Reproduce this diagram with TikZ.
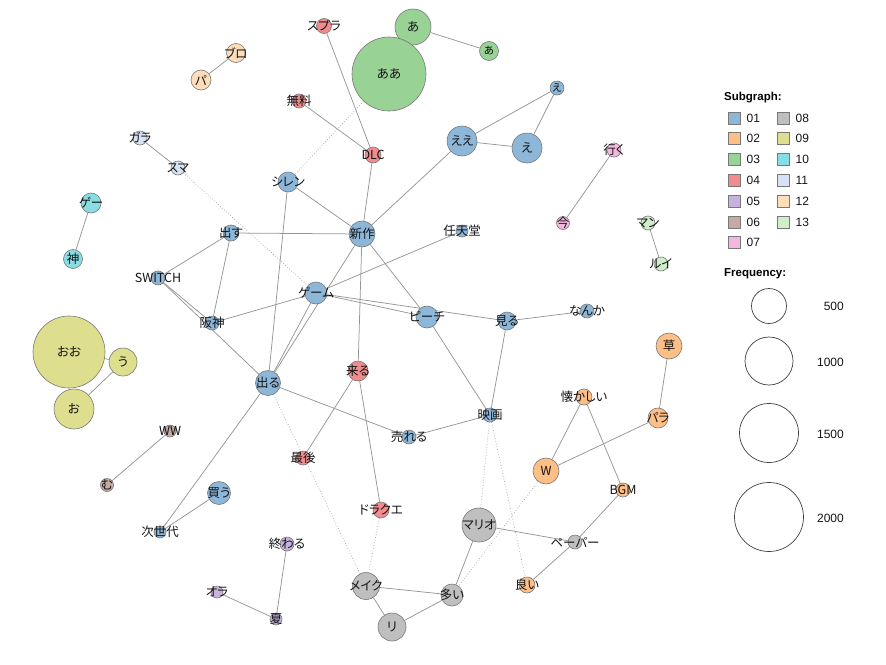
\documentclass[tikz,border=0pt]{standalone}
\usepackage{fontspec}
\setmainfont{Liberation Sans}
\newfontfamily\jpfont[RawFeature=+palt]{Noto Sans CJK JP}
\usetikzlibrary{backgrounds}
\definecolor{c01}{RGB}{141,183,217}
\definecolor{c02}{RGB}{253,191,134}
\definecolor{c03}{RGB}{152,210,148}
\definecolor{c04}{RGB}{240,140,142}
\definecolor{c05}{RGB}{199,178,222}
\definecolor{c06}{RGB}{197,170,163}
\definecolor{c07}{RGB}{244,184,223}
\definecolor{c08}{RGB}{191,191,191}
\definecolor{c09}{RGB}{222,222,143}
\definecolor{c10}{RGB}{136,221,226}
\definecolor{c11}{RGB}{215,226,244}
\definecolor{c12}{RGB}{254,221,186}
\definecolor{c13}{RGB}{207,238,201}
\definecolor{rim}{RGB}{120,120,120}
\definecolor{edge}{RGB}{150,150,150}
\definecolor{ink}{RGB}{20,20,20}
\tikzstyle{word} = [circle, draw=rim, line width=0.6pt, inner sep=0pt]
\tikzstyle{every label} = [font=\jpfont\fontsize{12.5}{13}\selectfont, inner sep=0pt, text=ink]
\tikzstyle{line} = [draw=edge, line width=0.75pt]
\tikzstyle{weak} = [draw=edge!80, line width=0.75pt, dotted]
\tikzstyle{key} = [rectangle, draw=rim, line width=0.9pt, minimum size=12pt, inner sep=0pt]
\tikzstyle{keytext} = [font=\fontsize{12}{12}\selectfont, text=ink, inner sep=0pt, label distance=6pt]
\tikzstyle{ring} = [circle, draw=black!75, line width=0.7pt, inner sep=0pt]
\tikzstyle{head} = [font=\bfseries\fontsize{11.5}{12}\selectfont, anchor=west, inner sep=0pt]

\begin{document}
\begin{tikzpicture}[x=1pt, y=-1pt]
\useasboundingbox (0,0) rectangle (886,664);
\node [word, fill=c01, minimum size=26pt, label=center:新作] (shinsaku) at (362,234) {};
\node [word, fill=c01, minimum size=30pt, label=center:ええ] (ee) at (462,141) {};
\node [word, fill=c01, minimum size=30pt, label=center:え] (e) at (527,148) {};
\node [word, fill=c01, minimum size=14pt, label=center:ぇ] (esmall) at (557,88) {};
\node [word, fill=c01, minimum size=20pt, label=center:シレン] (shiren) at (288,182) {};
\node [word, fill=c01, minimum size=16pt, label=center:出す] (dasu) at (231,233) {};
\node [word, fill=c01, minimum size=12pt, label=center:任天堂] (nintendo) at (462,231) {};
\node [word, fill=c01, minimum size=14pt, label=center:SWITCH] (switch) at (158,278) {};
\node [word, fill=c01, minimum size=22pt, label=center:ゲーム] (game) at (316,293) {};
\node [word, fill=c01, minimum size=14pt, label=center:阪神] (hanshin) at (212,323) {};
\node [word, fill=c01, minimum size=22pt, label=center:ピーチ] (peach) at (427,317) {};
\node [word, fill=c01, minimum size=18pt, label=center:見る] (miru) at (507,321) {};
\node [word, fill=c01, minimum size=14pt, label=center:なんか] (nanka) at (587,311) {};
\node [word, fill=c01, minimum size=25pt, label=center:出る] (deru) at (268,383) {};
\node [word, fill=c01, minimum size=14pt, label=center:映画] (eiga) at (490,415) {};
\node [word, fill=c01, minimum size=14pt, label=center:売れる] (ureru) at (409,437) {};
\node [word, fill=c01, minimum size=23pt, label=center:買う] (kau) at (219,493) {};
\node [word, fill=c01, minimum size=12pt, label=center:次世代] (jisedai) at (160,532) {};
\node [word, fill=c04, minimum size=15pt, label=center:スプラ] (supura) at (324,26) {};
\node [word, fill=c04, minimum size=14pt, label=center:無料] (muryo) at (299,101) {};
\node [word, fill=c04, minimum size=16pt, label=center:DLC] (dlc) at (373,155) {};
\node [word, fill=c04, minimum size=20pt, label=center:来る] (kuru) at (358,371) {};
\node [word, fill=c04, minimum size=14pt, label=center:最後] (saigo) at (303,458) {};
\node [word, fill=c04, minimum size=16pt, label=center:ドラクエ] (dorakue) at (381,510) {};
\node [word, fill=c03, minimum size=36pt, label=center:あ] (a) at (413,27) {};
\node [word, fill=c03, minimum size=19pt, label=center:ぁ] (asmall) at (489,51) {};
\node [word, fill=c03, minimum size=74pt, label=center:ああ] (aa) at (389,74) {};
\node [word, fill=c08, minimum size=34pt, label=center:マリオ] (mario) at (479,525) {};
\node [word, fill=c08, minimum size=14pt, label=center:ペーパー] (paper) at (575,542) {};
\node [word, fill=c08, minimum size=27pt, label=center:メイク] (meiku) at (366,586) {};
\node [word, fill=c08, minimum size=22pt, label=center:多い] (ooi) at (452,595) {};
\node [word, fill=c08, minimum size=28pt, label=center:リ] (ri) at (392,627) {};
\node [word, fill=c02, minimum size=26pt, label=center:草] (kusa) at (669,346) {};
\node [word, fill=c02, minimum size=16pt, label=center:懐かしい] (natsukashii) at (584,397) {};
\node [word, fill=c02, minimum size=20pt, label=center:パラ] (para) at (658,418) {};
\node [word, fill=c02, minimum size=26pt, label=center:W] (w) at (546,471) {};
\node [word, fill=c02, minimum size=14pt, label=center:BGM] (bgm) at (623,490) {};
\node [word, fill=c02, minimum size=16pt, label=center:良い] (yoi) at (527,585) {};
\node [word, fill=c09, minimum size=72pt, label=center:おお] (oo) at (69,352) {};
\node [word, fill=c09, minimum size=28pt, label=center:う] (u) at (123,362) {};
\node [word, fill=c09, minimum size=40pt, label=center:お] (o) at (74,409) {};
\node [word, fill=c10, minimum size=20pt, label=center:ゲー] (gee) at (91,203) {};
\node [word, fill=c10, minimum size=19pt, label=center:神] (kami) at (73,259) {};
\node [word, fill=c11, minimum size=14pt, label=center:ガラ] (gara) at (140,138) {};
\node [word, fill=c11, minimum size=14pt, label=center:スマ] (suma) at (178,168) {};
\node [word, fill=c12, minimum size=19pt, label=center:ブロ] (buro) at (236,53) {};
\node [word, fill=c12, minimum size=20pt, label=center:パ] (pa) at (201,80) {};
\node [word, fill=c13, minimum size=14pt, label=center:マン] (man) at (648,223) {};
\node [word, fill=c13, minimum size=14pt, label=center:ルイ] (rui) at (661,264) {};
\node [word, fill=c07, minimum size=14pt, label=center:行く] (iku) at (614,150) {};
\node [word, fill=c07, minimum size=13pt, label=center:今] (ima) at (563,223) {};
\node [word, fill=c05, minimum size=14pt, label=center:終わる] (owaru) at (287,544) {};
\node [word, fill=c05, minimum size=12pt, label=center:オラ] (ora) at (217,592) {};
\node [word, fill=c05, minimum size=12pt, label=center:夏] (natsu) at (276,619) {};
\node [word, fill=c06, minimum size=12pt, label=center:WW] (ww) at (170,431) {};
\node [word, fill=c06, minimum size=13pt, label=center:む] (mu) at (107,485) {};
\begin{scope}[on background layer]
\path [line] (supura) -- (dlc);
\path [line] (muryo) -- (dlc);
\path [line] (dlc) -- (shinsaku);
\path [line] (a) -- (asmall);
\path [line] (ee) -- (e);
\path [line] (ee) -- (esmall);
\path [line] (e) -- (esmall);
\path [line] (ee) -- (shinsaku);
\path [line] (shiren) -- (shinsaku);
\path [line] (shiren) -- (deru);
\path [line] (dasu) -- (shinsaku);
\path [line] (dasu) -- (switch);
\path [line] (dasu) -- (hanshin);
\path [line] (switch) -- (hanshin);
\path [line] (switch) -- (deru);
\path [line] (hanshin) -- (game);
\path [line] (game) -- (nintendo);
\path [line] (game) -- (peach);
\path [line] (game) -- (miru);
\path [line] (game) -- (deru);
\path [line] (shinsaku) -- (deru);
\path [line] (shinsaku) -- (peach);
\path [line] (shinsaku) -- (kuru);
\path [line] (miru) -- (nanka);
\path [line] (miru) -- (eiga);
\path [line] (peach) -- (eiga);
\path [line] (deru) -- (ureru);
\path [line] (ureru) -- (eiga);
\path [line] (deru) -- (jisedai);
\path [line] (kau) -- (jisedai);
\path [line] (kuru) -- (saigo);
\path [line] (kuru) -- (dorakue);
\path [line] (natsukashii) -- (w);
\path [line] (natsukashii) -- (bgm);
\path [line] (w) -- (para);
\path [line] (para) -- (kusa);
\path [line] (bgm) -- (paper);
\path [line] (paper) -- (yoi);
\path [line] (mario) -- (paper);
\path [line] (mario) -- (ooi);
\path [line] (meiku) -- (ooi);
\path [line] (meiku) -- (ri);
\path [line] (ri) -- (ooi);
\path [line] (oo) -- (u);
\path [line] (u) -- (o);
\path [line] (gee) -- (kami);
\path [line] (gara) -- (suma);
\path [line] (buro) -- (pa);
\path [line] (man) -- (rui);
\path [line] (iku) -- (ima);
\path [line] (owaru) -- (natsu);
\path [line] (ora) -- (natsu);
\path [line] (ww) -- (mu);
\path [weak] (aa) -- (shiren);
\path [weak] (suma) -- (game);
\path [weak] (deru) -- (meiku);
\path [weak] (dorakue) -- (meiku);
\path [weak] (eiga) -- (mario);
\path [weak] (eiga) -- (yoi);
\path [weak] (w) -- (ooi);
\end{scope}
\node [head] (subgraph) at (724,98) {Subgraph:};
\node [key, fill=c01, label={[keytext]right:01}] (k01) at (734,118) {};
\node [key, fill=c02, label={[keytext]right:02}] (k02) at (734,138) {};
\node [key, fill=c03, label={[keytext]right:03}] (k03) at (734,159) {};
\node [key, fill=c04, label={[keytext]right:04}] (k04) at (734,180) {};
\node [key, fill=c05, label={[keytext]right:05}] (k05) at (734,201) {};
\node [key, fill=c06, label={[keytext]right:06}] (k06) at (734,222) {};
\node [key, fill=c07, label={[keytext]right:07}] (k07) at (734,242) {};
\node [key, fill=c08, label={[keytext]right:08}] (k08) at (783,118) {};
\node [key, fill=c09, label={[keytext]right:09}] (k09) at (783,138) {};
\node [key, fill=c10, label={[keytext]right:10}] (k10) at (783,159) {};
\node [key, fill=c11, label={[keytext]right:11}] (k11) at (783,180) {};
\node [key, fill=c12, label={[keytext]right:12}] (k12) at (783,201) {};
\node [key, fill=c13, label={[keytext]right:13}] (k13) at (783,222) {};
\node [head] (frequency) at (724,274) {Frequency:};
\node [ring, minimum size=35pt] (f500) at (769,306) {};
\node [ring, minimum size=48pt] (f1000) at (769,361) {};
\node [ring, minimum size=59pt] (f1500) at (769,433) {};
\node [ring, minimum size=69pt] (f2000) at (769,517) {};
\node [keytext, anchor=east] (t500) at (844,306) {500};
\node [keytext, anchor=east] (t1000) at (844,362) {1000};
\node [keytext, anchor=east] (t1500) at (844,434) {1500};
\node [keytext, anchor=east] (t2000) at (844,518) {2000};
\end{tikzpicture}
\end{document}
